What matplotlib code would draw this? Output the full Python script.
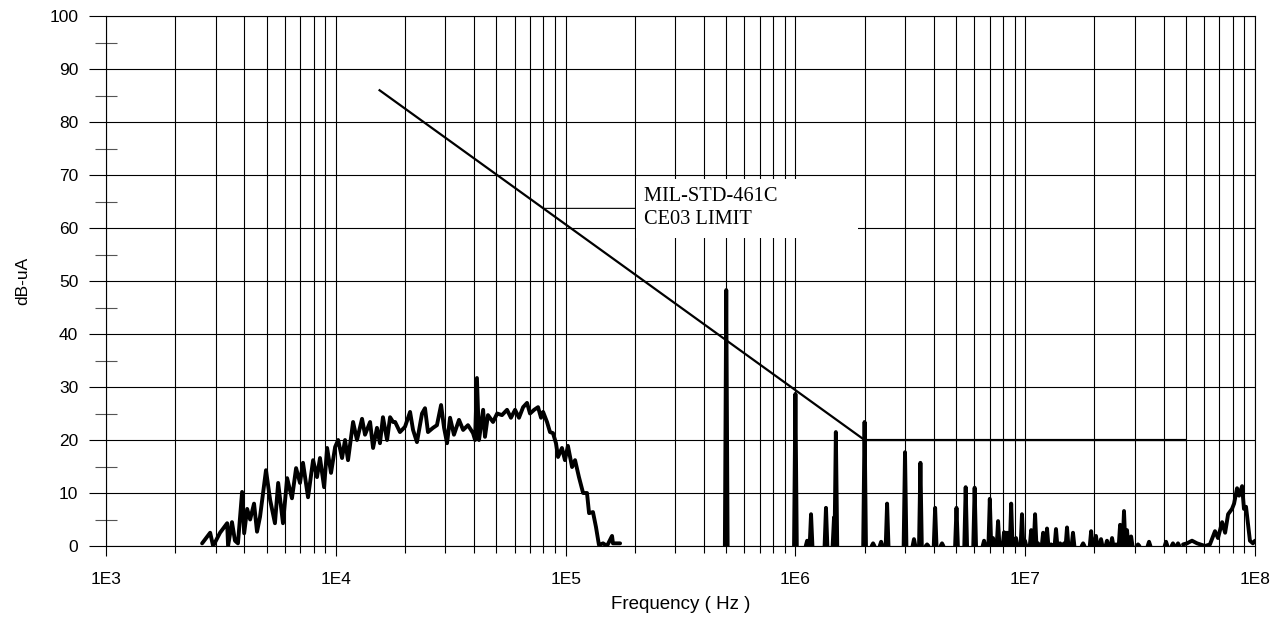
import numpy as np
import matplotlib
matplotlib.use("Agg")
import matplotlib.pyplot as plt
from matplotlib.ticker import FixedLocator, NullFormatter

# MIL-STD-461C CE03 limit line (Hz, dB-uA)
limit_freq = [1.55e4, 2e6, 5e7]
limit_db = [86, 20, 20]

# measured trace, broadband part (log10 of Hz, dB-uA)
noise_logf = [3.418, 3.453, 3.466, 3.496, 3.527, 3.531, 3.548, 3.561, 3.574, 3.592,
              3.601, 3.614, 3.627, 3.644, 3.657, 3.670, 3.696, 3.714, 3.735, 3.749,
              3.770, 3.788, 3.809, 3.827, 3.844, 3.857, 3.879, 3.901, 3.918, 3.931,
              3.949, 3.962, 3.979, 3.997, 4.010, 4.027, 4.040, 4.053, 4.075, 4.092,
              4.114, 4.127, 4.149, 4.162, 4.179, 4.192, 4.205, 4.223, 4.236, 4.249,
              4.258, 4.279, 4.301, 4.323, 4.336, 4.353, 4.375, 4.388, 4.401, 4.423,
              4.440, 4.458, 4.471, 4.484, 4.497, 4.514, 4.536, 4.554, 4.575, 4.597,
              4.606, 4.614, 4.623, 4.641, 4.649, 4.662, 4.684, 4.702, 4.723, 4.745,
              4.762, 4.780, 4.797, 4.815, 4.832, 4.845, 4.863, 4.880, 4.893, 4.902,
              4.919, 4.932, 4.945, 4.958, 4.967, 4.984, 4.997, 5.010, 5.028, 5.041,
              5.058, 5.076, 5.093, 5.102, 5.119, 5.132, 5.145, 5.163, 5.180, 5.202,
              5.206, 5.237]
noise_db = [0.5, 2.5, 0.0, 2.5, 4.3, 0.0, 4.5, 1.0, 0.5, 10.2,
            2.4, 7.0, 5.0, 8.0, 2.7, 5.5, 14.3, 8.7, 4.3, 11.9,
            4.3, 12.8, 9.0, 14.7, 11.9, 15.7, 9.2, 16.2, 13.0, 16.6,
            11.1, 18.5, 13.8, 18.7, 20.0, 16.6, 20.0, 16.2, 23.4, 20.0,
            24.0, 21.0, 23.4, 18.5, 22.3, 19.4, 24.3, 20.0, 24.3, 23.4,
            23.4, 21.5, 22.5, 25.3, 21.9, 19.6, 25.0, 26.0, 21.5, 22.3,
            22.8, 26.6, 22.3, 19.4, 24.2, 21.0, 23.8, 21.9, 22.8, 21.3,
            20.0, 31.7, 20.0, 25.7, 20.6, 24.7, 23.4, 25.0, 24.7, 25.7,
            24.2, 25.7, 24.2, 26.2, 27.0, 25.0, 25.7, 26.2, 24.2, 25.3,
            23.4, 21.5, 21.3, 19.4, 16.8, 18.5, 16.2, 18.9, 14.9, 16.2,
            13.0, 10.0, 10.0, 6.2, 6.4, 3.6, 0.2, 0.5, 0.0, 1.9,
            0.5, 0.5]

# narrowband spikes (log10 of Hz, peak dB-uA)
spike_logf = [5.699, 6.000, 6.051, 6.068, 6.133, 6.168, 6.176, 6.301, 6.338, 6.373,
              6.399, 6.477, 6.516, 6.544, 6.573, 6.608, 6.638, 6.701, 6.741, 6.780,
              6.821, 6.846, 6.860, 6.882, 6.908, 6.921, 6.939, 6.960, 6.986, 6.999,
              7.026, 7.043, 7.056, 7.078, 7.095, 7.113, 7.134, 7.152, 7.169, 7.182,
              7.208, 7.252, 7.287, 7.308, 7.330, 7.356, 7.378, 7.395, 7.413, 7.430,
              7.443, 7.461, 7.491, 7.539, 7.613, 7.643, 7.665]
spike_db = [48.3, 28.7, 1.0, 6.0, 7.2, 5.4, 21.5, 23.4, 0.5, 0.8,
            8.0, 17.7, 1.3, 15.7, 0.3, 7.2, 0.5, 7.2, 11.1, 11.0,
            1.0, 8.9, 1.5, 4.7, 2.6, 2.5, 8.0, 1.5, 6.0, 1.0,
            3.0, 6.0, 0.5, 2.5, 3.3, 0.3, 3.2, 0.5, 0.5, 3.5,
            2.5, 0.5, 2.8, 1.9, 1.3, 1.0, 1.5, 0.3, 4.0, 6.6,
            3.0, 1.8, 0.3, 0.8, 0.8, 0.5, 0.5]

# bump near 100 MHz
tail_logf = [7.687, 7.704, 7.726, 7.748, 7.783, 7.804, 7.826, 7.839, 7.857, 7.870,
             7.883, 7.900, 7.909, 7.922, 7.931, 7.944, 7.952, 7.961, 7.970, 7.978,
             7.991, 8.000]
tail_db = [0.3, 0.5, 1.0, 0.5, 0.0, 0.3, 2.8, 1.5, 4.5, 2.5,
           6.0, 7.0, 8.0, 10.9, 9.5, 11.3, 7.0, 7.4, 4.0, 1.0,
           0.5, 1.0]

decade_labels = ['1E3', '1E4', '1E5', '1E6', '1E7', '1E8']

# assemble the trace, NaN splits the segments
half = 0.006
xs = list(noise_logf) + [np.nan]
ys = list(noise_db) + [np.nan]
for lf, db in zip(spike_logf, spike_db):
    xs += [lf - half, lf, lf + half, np.nan]
    ys += [0, db, 0, np.nan]
xs += list(tail_logf)
ys += list(tail_db)
trace_f = 10 ** np.array(xs)
trace_db = np.array(ys)

fig = plt.figure(figsize=(12.84, 6.18), dpi=100)
ax = fig.add_axes([0.0826, 0.1165, 0.8948, 0.8575])

ax.plot(limit_freq, limit_db, color='black', lw=1.6, zorder=3)
ax.plot(trace_f, trace_db, color='black', lw=2.8, solid_joinstyle='round',
        solid_capstyle='round', zorder=4)

ax.set_xscale('log')
ax.set_xlim(1e3, 1e8)
ax.set_ylim(0, 100)

majors = [10.0 ** k for k in range(3, 9)]
minors = [m * 10.0 ** k for k in range(3, 8) for m in range(2, 10)]
ax.xaxis.set_major_locator(FixedLocator(majors))
ax.xaxis.set_minor_locator(FixedLocator(minors))
ax.xaxis.set_minor_formatter(NullFormatter())
ax.set_xticklabels(decade_labels)
ax.yaxis.set_major_locator(FixedLocator(range(0, 101, 10)))
ax.yaxis.set_minor_locator(FixedLocator(range(5, 100, 10)))

ax.grid(True, which='both', axis='x', color='black', lw=0.8)
ax.grid(True, which='major', axis='y', color='black', lw=0.8)
ax.set_axisbelow(True)

ax.tick_params(axis='x', which='major', direction='out', length=7, width=0.8, pad=12)
ax.tick_params(axis='x', which='minor', direction='out', length=5, width=0.8)
ax.tick_params(axis='y', which='major', direction='out', length=12, width=0.8, pad=8)
ax.tick_params(axis='y', which='minor', direction='inout', length=16, width=0.8, color='#555555')
for t in ax.get_xticklabels() + ax.get_yticklabels():
    t.set_fontfamily('Liberation Sans')
    t.set_fontsize(12.5)
for s in ax.spines.values():
    s.set_linewidth(0.8)

ax.set_xlabel('Frequency ( Hz )', fontfamily='Liberation Sans', fontsize=13.5, labelpad=6)
ax.set_ylabel('dB-uA', fontfamily='Liberation Sans', fontsize=12.5, labelpad=14)

# label with leader line to the limit curve
tip_f = 8e4
tip_db = np.interp(np.log10(tip_f), np.log10(limit_freq), limit_db)
ax.annotate('MIL-STD-461C              \nCE03 LIMIT', xy=(tip_f, tip_db), xytext=(2.2e5, tip_db),
            fontfamily='Liberation Serif', fontsize=14.7, va='center', ha='left',
            linespacing=1.3,
            bbox=dict(boxstyle='square,pad=0.4', fc='white', ec='none'),
            arrowprops=dict(arrowstyle='-', lw=0.8, color='black', shrinkA=0, shrinkB=0),
            zorder=5)

fig.savefig('out.png', dpi=100)
